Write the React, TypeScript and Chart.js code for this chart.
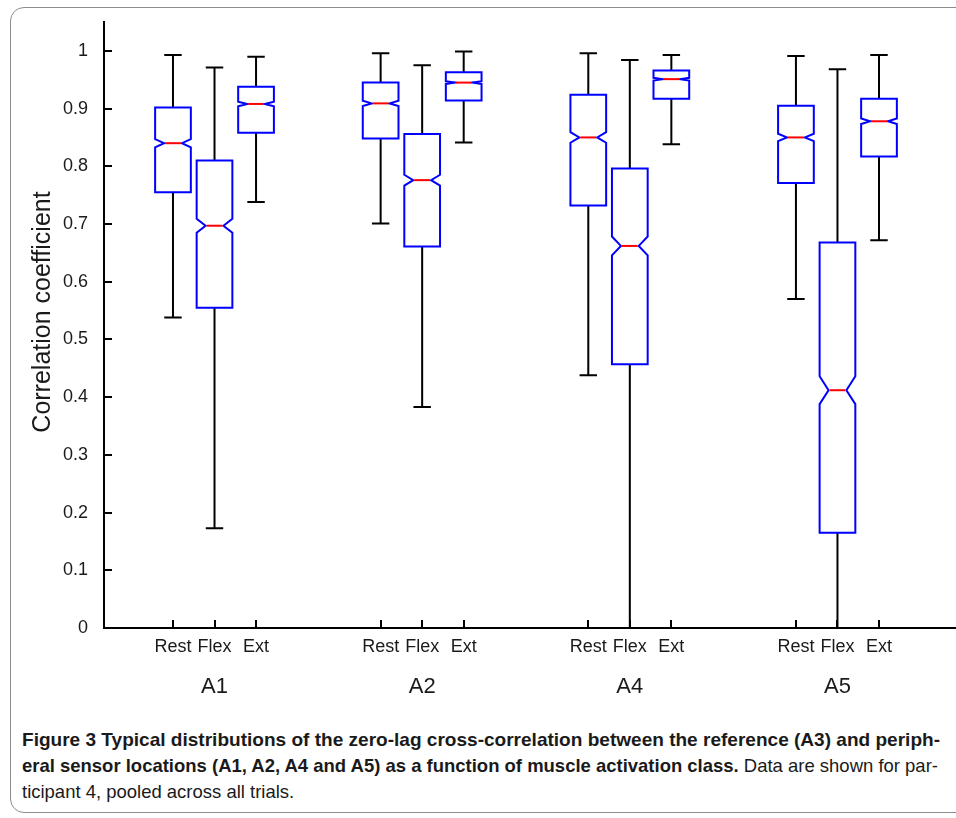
import React, { useEffect, useRef } from "react";
import { Chart, registerables } from "chart.js";

Chart.register(...registerables);

// ---- Data ----
const GROUPS = ["A1", "A2", "A4", "A5"];
const CLASSES = ["Rest", "Flex", "Ext"];
// x positions (group g, class i) -> 5*g + i + 1
const POSITIONS = [1, 2, 3, 6, 7, 8, 11, 12, 13, 16, 17, 18];
// order: A1 Rest, A1 Flex, A1 Ext, A2 Rest, ... A5 Ext
const LOWER = [0.538, 0.173, 0.738, 0.701, 0.383, 0.841, 0.438, 0.0, 0.838, 0.57, 0.0, 0.672];
const Q1 = [0.755, 0.555, 0.858, 0.848, 0.661, 0.914, 0.732, 0.457, 0.917, 0.771, 0.165, 0.817];
const MEDIAN = [0.84, 0.697, 0.908, 0.909, 0.776, 0.945, 0.85, 0.662, 0.951, 0.85, 0.412, 0.878];
const Q3 = [0.902, 0.81, 0.938, 0.945, 0.856, 0.963, 0.924, 0.796, 0.966, 0.905, 0.668, 0.917];
const UPPER = [0.993, 0.971, 0.99, 0.996, 0.975, 0.999, 0.996, 0.984, 0.993, 0.991, 0.968, 0.993];
const N_SAMPLES = 1070;
const Y_TICKS = [0, 0.1, 0.2, 0.3, 0.4, 0.5, 0.6, 0.7, 0.8, 0.9, 1];

const CAPTION_LINE1 = "Figure 3 Typical distributions of the zero-lag cross-correlation between the reference (A3) and periph-";
const CAPTION_LINE2_BOLD = "eral sensor locations (A1, A2, A4 and A5) as a function of muscle activation class.";
const CAPTION_LINE2_REG = " Data are shown for par-";
const CAPTION_LINE3 = "ticipant 4, pooled across all trials.";

const FONT = "'Liberation Sans', Arial, sans-serif";

const boxPlugin = {
  id: "notchedBoxes",
  afterDatasetsDraw(chart: any) {
    const { ctx, chartArea, scales } = chart;
    const xs = scales.x;
    const ys = scales.y;
    const unit = xs.getPixelForValue(1) - xs.getPixelForValue(0);
    const hw = unit * 0.43;
    const cap = unit * 0.21;
    const waist = hw * 0.5;
    ctx.save();
    ctx.beginPath();
    ctx.rect(chartArea.left, chartArea.top - 5, chartArea.right - chartArea.left, chartArea.bottom - chartArea.top + 5);
    ctx.clip();
    for (let k = 0; k < POSITIONS.length; k++) {
      const x = xs.getPixelForValue(POSITIONS[k]);
      const yLo = ys.getPixelForValue(LOWER[k]);
      const yQ1 = ys.getPixelForValue(Q1[k]);
      const yMed = ys.getPixelForValue(MEDIAN[k]);
      const yQ3 = ys.getPixelForValue(Q3[k]);
      const yUp = ys.getPixelForValue(UPPER[k]);
      const notch = (1.57 * (Q3[k] - Q1[k])) / Math.sqrt(N_SAMPLES);
      const yNLo = ys.getPixelForValue(MEDIAN[k] - notch);
      const yNHi = ys.getPixelForValue(MEDIAN[k] + notch);
      // whiskers
      ctx.strokeStyle = "#000";
      ctx.lineWidth = 2;
      ctx.beginPath();
      ctx.moveTo(x, yQ3);
      ctx.lineTo(x, yUp);
      ctx.moveTo(x - cap, yUp);
      ctx.lineTo(x + cap, yUp);
      ctx.moveTo(x, yQ1);
      ctx.lineTo(x, yLo);
      ctx.moveTo(x - cap, yLo);
      ctx.lineTo(x + cap, yLo);
      ctx.stroke();
      // box
      ctx.strokeStyle = "#0000ff";
      ctx.lineWidth = 2;
      ctx.beginPath();
      ctx.moveTo(x - hw, yQ1);
      ctx.lineTo(x - hw, yNLo);
      ctx.lineTo(x - waist, yMed);
      ctx.lineTo(x - hw, yNHi);
      ctx.lineTo(x - hw, yQ3);
      ctx.lineTo(x + hw, yQ3);
      ctx.lineTo(x + hw, yNHi);
      ctx.lineTo(x + waist, yMed);
      ctx.lineTo(x + hw, yNLo);
      ctx.lineTo(x + hw, yQ1);
      ctx.closePath();
      ctx.stroke();
      // median
      ctx.strokeStyle = "#ff0000";
      ctx.beginPath();
      ctx.moveTo(x - waist + 1, yMed);
      ctx.lineTo(x + waist - 1, yMed);
      ctx.stroke();
    }
    ctx.restore();

    // inward ticks
    ctx.save();
    ctx.strokeStyle = "#000";
    ctx.lineWidth = 2;
    ctx.beginPath();
    for (const v of Y_TICKS) {
      const y = Math.round(ys.getPixelForValue(v));
      ctx.moveTo(chartArea.left, y);
      ctx.lineTo(chartArea.left + 8, y);
    }
    for (const p of POSITIONS) {
      const x = Math.round(xs.getPixelForValue(p));
      ctx.moveTo(x, chartArea.bottom);
      ctx.lineTo(x, chartArea.bottom - 8);
    }
    ctx.stroke();

    // group labels
    ctx.fillStyle = "#1a1a1a";
    ctx.font = `22px ${FONT}`;
    ctx.textAlign = "center";
    ctx.textBaseline = "middle";
    GROUPS.forEach((g, gi) => {
      const x = xs.getPixelForValue(POSITIONS[gi * 3 + 1]);
      ctx.fillText(g, x, chartArea.bottom + 59);
    });

    // y title
    ctx.translate(43, 312);
    ctx.rotate(-Math.PI / 2);
    ctx.font = `25px ${FONT}`;
    ctx.fillText("Correlation coefficient", 0, 0);
    ctx.restore();
  },
};

function BoxChart() {
  const ref = useRef<HTMLCanvasElement | null>(null);
  useEffect(() => {
    if (!ref.current) return;
    const chart = new Chart(ref.current, {
      type: "scatter",
      data: { datasets: [{ data: [], showLine: false }] },
      options: {
        animation: false,
        responsive: false,
        maintainAspectRatio: false,
        layout: { padding: { top: 22, left: 0, right: 0, bottom: 0 } },
        plugins: { legend: { display: false }, tooltip: { enabled: false } },
        scales: {
          x: {
            type: "linear",
            min: -0.661,
            max: 19.854,
            grid: { display: false },
            border: { display: true, color: "#000", width: 2 },
            afterBuildTicks: (scale: any) => {
              scale.ticks = POSITIONS.map((v) => ({ value: v }));
            },
            afterFit: (scale: any) => {
              scale.height = 82;
            },
            ticks: {
              autoSkip: false,
              maxRotation: 0,
              minRotation: 0,
              padding: 0,
              color: "#1a1a1a",
              font: { family: FONT, size: 18 },
              callback: (_v: any, i: number) => CLASSES[i % 3],
            },
          },
          y: {
            type: "linear",
            min: 0,
            max: 1.05,
            grid: { display: false },
            border: { display: true, color: "#000", width: 2 },
            afterBuildTicks: (scale: any) => {
              scale.ticks = Y_TICKS.map((v) => ({ value: v }));
            },
            afterFit: (scale: any) => {
              scale.width = 104;
            },
            ticks: {
              padding: 8,
              color: "#1a1a1a",
              font: { family: FONT, size: 18 },
              callback: (v: any) => String(Math.round(Number(v) * 10) / 10),
            },
          },
        },
      },
      plugins: [boxPlugin],
    } as any);
    return () => chart.destroy();
  }, []);
  return (
    <canvas
      ref={ref}
      width={956}
      height={710}
      style={{ position: "absolute", left: 0, top: 0, width: 956, height: 710 }}
    />
  );
}

const CAP_FONT_FAMILY = "'Liberation Sans', Arial, sans-serif";
const CAP_SIZE = 19;
const LINE_WIDTH = 918;

function measure(text: string, bold: boolean): number {
  const c = document.createElement("canvas");
  const ctx = c.getContext("2d");
  if (!ctx) return text.length * 9;
  ctx.font = `${bold ? "bold " : ""}${CAP_SIZE}px ${CAP_FONT_FAMILY}`;
  return ctx.measureText(text).width;
}

function Caption() {
  const w1 = measure(CAPTION_LINE1, true);
  const w2 = measure(CAPTION_LINE2_BOLD, true) + measure(CAPTION_LINE2_REG, false);
  const s1 = LINE_WIDTH / w1;
  const s2 = LINE_WIDTH / w2;
  const base: React.CSSProperties = {
    position: "absolute",
    left: 22,
    whiteSpace: "pre",
    fontFamily: CAP_FONT_FAMILY,
    fontSize: CAP_SIZE,
    lineHeight: "24px",
    color: "#1a1a1a",
    transformOrigin: "0 0",
  };
  return (
    <>
      <div style={{ ...base, top: 728, fontWeight: "bold", transform: `scaleX(${s1})` }}>{CAPTION_LINE1}</div>
      <div style={{ ...base, top: 754, transform: `scaleX(${s2})` }}>
        <b>{CAPTION_LINE2_BOLD}</b>
        {CAPTION_LINE2_REG}
      </div>
      <div style={{ ...base, top: 780, transform: `scaleX(${s2})` }}>{CAPTION_LINE3}</div>
    </>
  );
}

export default function App() {
  return (
    <div
      style={{
        position: "absolute",
        left: 0,
        top: 0,
        width: 956,
        height: 818,
        overflow: "hidden",
        background: "#fff",
      }}
    >
      <div
        style={{
          position: "absolute",
          left: 10,
          top: 7,
          width: 1000,
          height: 804,
          border: "1px solid #8c8c8c",
          borderRadius: 14,
        }}
      />
      <BoxChart />
      <Caption />
    </div>
  );
}
